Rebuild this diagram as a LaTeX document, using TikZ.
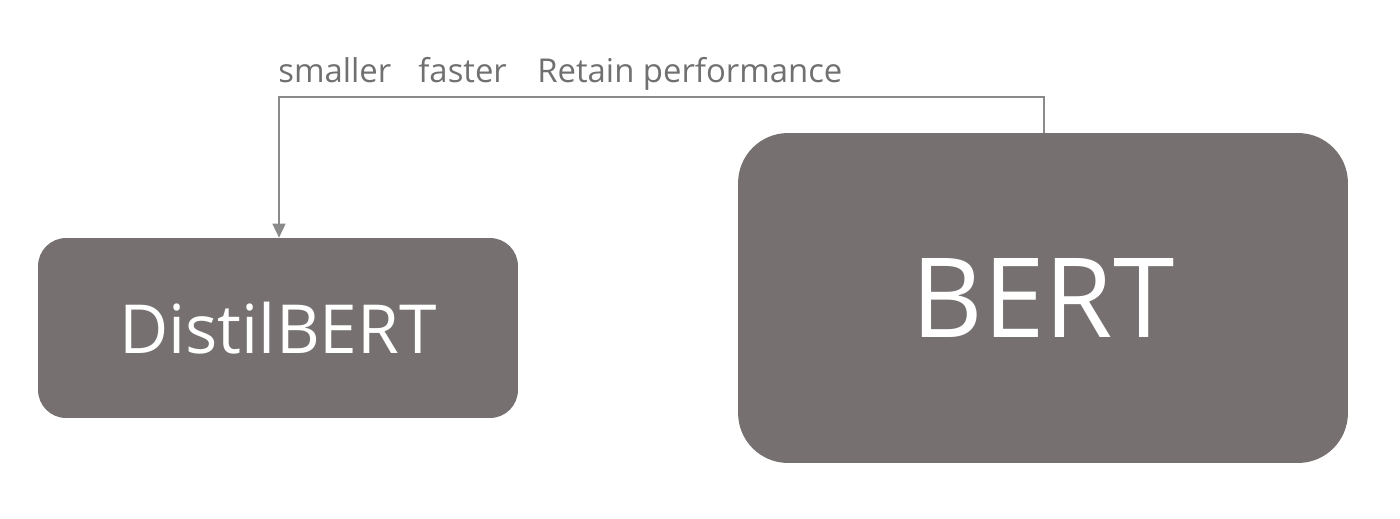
\documentclass[tikz,border=0pt]{standalone}
\usepackage{fontspec}
\setmainfont{Open Sans}
\usetikzlibrary{arrows.meta}
\definecolor{boxgray}{HTML}{767170}
\definecolor{linegray}{HTML}{8A8A8A}
\definecolor{textgray}{HTML}{707070}
\tikzset{
  modelbox/.style={fill=boxgray, draw=none, text=white, inner sep=0pt, anchor=center},
  lbl/.style={text=textgray, anchor=base west, inner sep=0pt, font=\fontsize{18.7}{22}\selectfont},
  conn/.style={draw=linegray, line width=0.9pt, -{Triangle[length=0.28cm,width=0.26cm]}}
}
\begin{document}
\begin{tikzpicture}[x=0.02cm,y=-0.02cm]
\useasboundingbox (0,0) rectangle (1400,518);
\node[modelbox, rounded corners=0.56cm, minimum width=9.6cm, minimum height=3.6cm,
  font=\fontsize{38.5}{44}\selectfont] (distil) at (278,328) {DistilBERT};
\node[modelbox, rounded corners=1.0cm, minimum width=12.2cm, minimum height=6.6cm,
  font=\fontsize{63}{70}\selectfont] (bert) at (1043,298) {BERT};
\coordinate (c1) at (1044,97);
\coordinate (c2) at (279,97);
\draw[conn] (bert.north -| c1) -- (c1) -- (c2) -- (distil.north -| c2);
\node[lbl] (l1) at (278,82) {smaller};
\node[lbl] (l2) at (418,82) {faster};
\node[lbl] (l3) at (537,82) {Retain performance};
\end{tikzpicture}
\end{document}
